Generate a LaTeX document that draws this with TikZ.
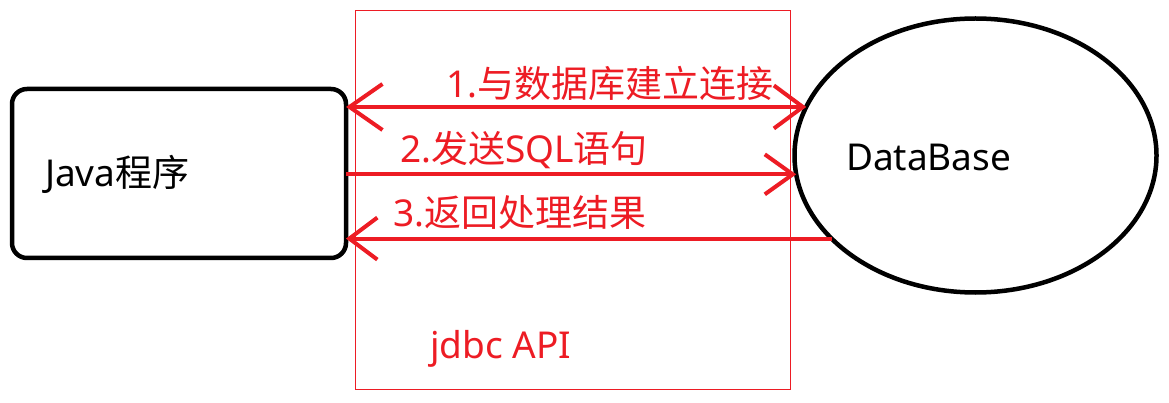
\documentclass[tikz,border=0pt]{standalone}
\usepackage{fontspec}
\setmainfont{Noto Sans}
\newfontfamily\cjk{Noto Sans CJK SC}
\usetikzlibrary{arrows.meta,shapes.geometric}
\definecolor{pred}{HTML}{ED1C24}
\begin{document}
\begin{tikzpicture}[x=1pt,y=-1pt,
  lbl/.style={anchor=base west,inner sep=0pt,outer sep=0pt,font=\fontsize{37}{41}\selectfont},
  arr/.style={draw=pred,line width=4pt},
  blk/.style={draw=black,line width=4.5pt,inner sep=0pt,outer sep=0pt}]
\useasboundingbox (0,0) rectangle (1169,403);
% jdbc API frame
\node[draw=pred,line width=1.3pt,minimum width=435pt,minimum height=379pt,inner sep=0pt,outer sep=0pt] (frame) at (573.2,200.3) {};
% Java program box
\node[blk,rounded corners=15pt,minimum width=334pt,minimum height=169pt] (java) at (179,173.5) {};
% Database ellipse
\node[blk,ellipse,minimum width=362pt,minimum height=274pt] (db) at (975.5,155.5) {};
% texts
\node[lbl] (tjava) at (45,187) {Java{\cjk 程序}};
\node[lbl] (tdb) at (846,171) {DataBase};
\node[lbl,text=pred] (tapi) at (430,358) {jdbc API};
\node[lbl,text=pred] (t1) at (446,98) {1.{\cjk 与数据库建立连接}};
\node[lbl,text=pred] (t2) at (400,163) {2.{\cjk 发送}SQL{\cjk 语句}};
\node[lbl,text=pred] (t3) at (393,227) {3.{\cjk 返回处理结果}};
% connectors
\draw[arr,{Straight Barb[length=33pt,width=46pt,line width=4pt]}-{Straight Barb[length=29pt,width=43pt,line width=4pt]}] (java.east |- db.164) -- (db.164);
\draw[arr,-{Straight Barb[length=28pt,width=40pt,line width=4pt]}] (java.east |- db.186.2) -- (db.186.2);
\draw[arr,-{Straight Barb[length=28pt,width=42pt,line width=4pt]}] (db.210.3) -- (java.east |- db.210.3);
\end{tikzpicture}
\end{document}
